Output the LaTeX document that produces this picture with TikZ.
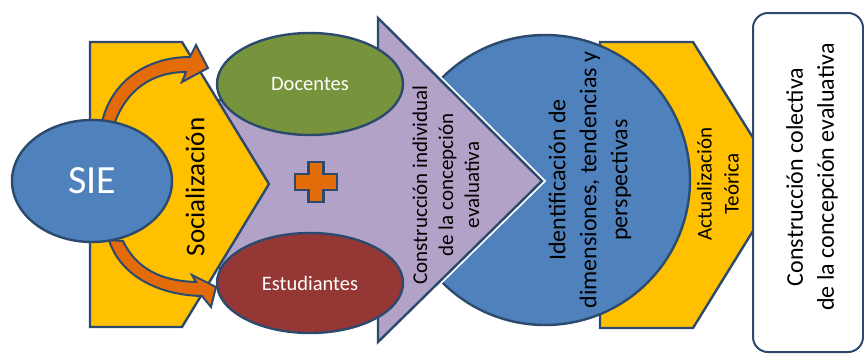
\documentclass[tikz,border=0pt]{standalone}
\usepackage{fontspec}
\setmainfont{Carlito}
\usetikzlibrary{shapes.geometric}
\definecolor{dblue}{HTML}{2C4A6E}
\definecolor{sieblue}{HTML}{4F81BD}
\definecolor{gold}{HTML}{FFC000}
\definecolor{lav}{HTML}{B3A2C7}
\definecolor{olive}{HTML}{77933C}
\definecolor{brick}{HTML}{953735}
\definecolor{orng}{HTML}{E36C09}
\begin{document}
\begin{tikzpicture}[x=1pt,y=-1pt,
  outl/.style={draw=dblue, line width=2.4pt, line join=miter},
  oval/.style={ellipse, outl, inner sep=0pt, text=white, font=\fontsize{20.5}{24}\selectfont},
  vtext/.style={rotate=90, align=center, text=black, inner sep=0pt},
  barrow/.style={draw=dblue, line width=2pt, fill=orng, line join=miter}]
\useasboundingbox (0,0) rectangle (864,354);
% second yellow pentagon
\draw[outl, fill=gold] (600,42) -- (693,42) -- (782,184) -- (693,328) -- (600,328) -- cycle;
% blue circle
\node[circle, outl, fill=sieblue, minimum size=290pt, inner sep=0pt] (circ) at (545,180) {};
% purple notched arrow
\path[draw=white, line width=6pt, line join=miter]
  (200,100) -- (378,100) -- (378,18) -- (542,181) -- (378,342) -- (378,268) -- (200,268) -- cycle;
\draw[outl, fill=lav]
  (200,100) -- (378,100) -- (378,18) -- (542,181) -- (378,342) -- (378,268) -- (200,268) -- cycle;
% first yellow pentagon
\draw[outl, fill=gold] (90,42) -- (182,42) -- (269,184) -- (182,327) -- (90,327) -- cycle;
% ellipses
\node[oval, fill=olive, minimum width=186pt, minimum height=102pt] (doc) at (310,84) {Docentes};
\node[oval, fill=brick, minimum width=186pt, minimum height=100pt] (est) at (310,283) {Estudiantes};
% curved block arrows
\draw[barrow] (102,122) .. controls (112,80) and (148,57) .. (190,57) -- (196,45) -- (208,68)
  -- (182,82) -- (186,72) .. controls (150,72) and (126,92) .. (115,122) -- cycle;
\draw[barrow] (109,240) .. controls (119,273) and (155,295) .. (202,296) -- (211,307) -- (216,287)
  -- (192,275) -- (196,282) .. controls (160,281) and (136,268) .. (123,241) -- cycle;
% SIE
\node[ellipse, outl, fill=sieblue, minimum width=160pt, minimum height=122pt, inner sep=0pt,
  text=white, font=\fontsize{40}{48}\selectfont] (sie) at (92,181) {SIE};
% plus sign
\draw[outl, line width=2.8pt, fill=orng] (308.5,162) -- (323.5,162) -- (323.5,174) -- (337,174) -- (337,190)
  -- (323.5,190) -- (323.5,202) -- (308.5,202) -- (308.5,190) -- (295,190) -- (295,174)
  -- (308.5,174) -- cycle;
% texts
\node[vtext, font=\fontsize{27}{32}\selectfont] (soc) at (195,187) {Socialización};
\node[vtext, font=\fontsize{21}{26}\selectfont] (ci) at (446,185) {Construcción individual\\de la concepción\\evaluativa};
\node[vtext, font=\fontsize{24}{31}\selectfont] (idt) at (590,180) {Identificación de\\dimensiones, tendencias y\\perspectivas};
\node[vtext, font=\fontsize{21}{27}\selectfont] (act) at (718,184) {Actualización\\Teórica};
% final box
\node[draw=dblue, line width=2pt, rounded corners=15pt, fill=white, minimum width=110pt,
  minimum height=339pt, inner sep=0pt] (box) at (808,182.5) {};
\node[vtext, font=\fontsize{24}{31}\selectfont] (cc) at (812,177) {Construcción colectiva\\de la concepción evaluativa};
\end{tikzpicture}
\end{document}
